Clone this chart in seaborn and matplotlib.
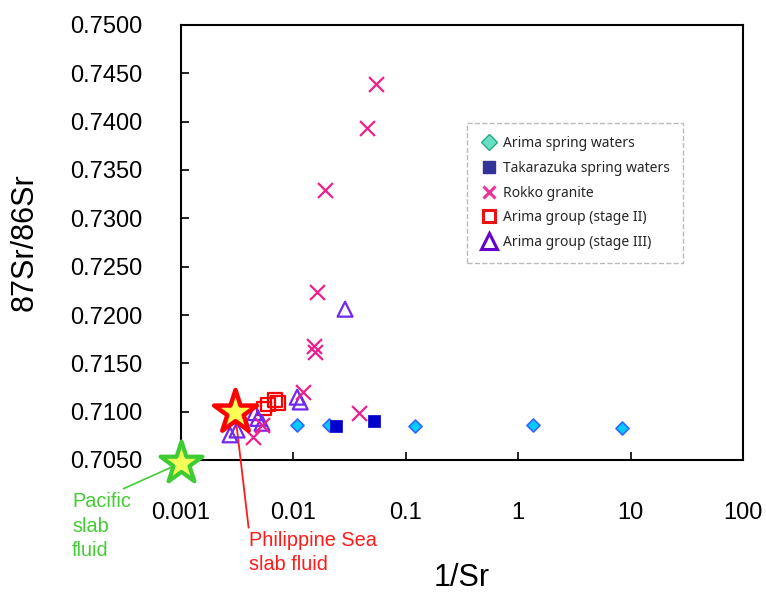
import numpy as np
import pandas as pd
import matplotlib
matplotlib.use('Agg')
import matplotlib.pyplot as plt
from matplotlib.lines import Line2D
import seaborn as sns

# data (x = 1/Sr, y = 87Sr/86Sr)
arima_x = [0.0108, 0.0207, 0.121, 1.36, 8.4]
arima_y = [0.7086, 0.7086, 0.7085, 0.7086, 0.7083]

takarazuka_x = [0.0239, 0.0521]
takarazuka_y = [0.7085, 0.7090]

rokko_x = [0.0543, 0.0452, 0.0191, 0.0162, 0.0152, 0.0156, 0.0122, 0.0384, 0.00526, 0.00437]
rokko_y = [0.7439, 0.7393, 0.7329, 0.7224, 0.7168, 0.7162, 0.7120, 0.7099, 0.7086, 0.7074]

stage2_x = [0.00547, 0.00594, 0.00686, 0.0073]
stage2_y = [0.7103, 0.7107, 0.7112, 0.7109]

stage3_x = [0.00273, 0.00315, 0.00455, 0.00484, 0.00526, 0.0108, 0.0115, 0.0288]
stage3_y = [0.7076, 0.7081, 0.7099, 0.7093, 0.7088, 0.7115, 0.7110, 0.7206]

phil_x, phil_y = [0.00302], [0.7100]
pac_x, pac_y = [0.001], [0.7047]

x_ticks = [0.001, 0.01, 0.1, 1, 10, 100]
x_ticklabels = ['0.001', '0.01', '0.1', '1', '10', '100']
y_ticks = [0.7050, 0.7100, 0.7150, 0.7200, 0.7250, 0.7300, 0.7350, 0.7400, 0.7450, 0.7500]

legend_labels = ['Arima spring waters', 'Takarazuka spring waters', 'Rokko granite',
                 'Arima group (stage II)', 'Arima group (stage III)']

sns.set_theme(style='white')
plt.rcParams['font.family'] = ['Liberation Sans', 'DejaVu Sans']

fig = plt.figure(figsize=(7.66, 5.92), dpi=100)
ax = fig.add_axes([181/766, 1 - 460/592, 562/766, 435/592])

# stars (end members)
sns.scatterplot(x=pac_x, y=pac_y, marker='*', s=1000, color='#f2ff5a',
                edgecolor='#3dcc33', linewidth=3, zorder=6, clip_on=False, ax=ax)
sns.scatterplot(x=phil_x, y=phil_y, marker='*', s=1050, color='#ffff55',
                edgecolor='#ff0000', linewidth=3.2, zorder=6, clip_on=False, ax=ax)

sns.scatterplot(x=arima_x, y=arima_y, marker='D', s=44, color='#00ccff',
                edgecolor='#3366ff', linewidth=1.2, zorder=3, ax=ax)
sns.scatterplot(x=takarazuka_x, y=takarazuka_y, marker='s', s=75, color='#0000cc',
                edgecolor='#0000cc', linewidth=0.5, zorder=3, ax=ax)
sns.scatterplot(x=stage2_x, y=stage2_y, marker='s', s=90, facecolor='none',
                edgecolor='#ff0000', linewidth=1.6, zorder=4, ax=ax)
sns.scatterplot(x=stage3_x, y=stage3_y, marker='^', s=115, facecolor='none',
                edgecolor='#7028f0', linewidth=1.6, zorder=4, ax=ax)
sns.scatterplot(x=rokko_x, y=rokko_y, marker='x', s=115, color='#ee1f8a',
                linewidth=1.6, zorder=5, ax=ax)

ax.set_xscale('log')
ax.set_xlim(0.001, 100)
ax.set_ylim(0.7050, 0.7500)
ax.set_xticks(x_ticks)
ax.set_xticklabels(x_ticklabels)
ax.xaxis.set_minor_locator(matplotlib.ticker.NullLocator())
ax.set_yticks(y_ticks)
ax.set_yticklabels(['%.4f' % v for v in y_ticks])

ax.tick_params(direction='in', length=6, width=1.2, color='black',
               labelsize=17, labelcolor='black', bottom=True, left=True)
ax.tick_params(axis='y', pad=28)
ax.tick_params(axis='x', pad=30)
for sp in ax.spines.values():
    sp.set_color('black')
    sp.set_linewidth(1.5)

ax.set_xlabel('1/Sr', fontsize=22, color='black', labelpad=28)
ax.set_ylabel('87Sr/86Sr', fontsize=22, color='black', labelpad=22)

# annotations
ax.annotate('Pacific\nslab\nfluid', xy=(pac_x[0], pac_y[0]), xytext=(72, 100),
            textcoords='figure pixels', ha='left', va='top', color='#44cc33',
            fontsize=14.3, linespacing=1.38, annotation_clip=False,
            arrowprops=dict(arrowstyle='-', color='#44cc33', lw=1.2,
                            shrinkA=0, shrinkB=0, relpos=(0.75, 1.0)))
ax.annotate('Philippine Sea\nslab fluid', xy=(phil_x[0], phil_y[0]), xytext=(249, 61),
            textcoords='figure pixels', ha='left', va='top', color='#ff1a1a',
            fontsize=14.3, linespacing=1.3, annotation_clip=False,
            arrowprops=dict(arrowstyle='-', color='#ff1a1a', lw=1.3,
                            shrinkA=0, shrinkB=0, relpos=(0.0, 1.0)))

# legend
handles = [
    Line2D([], [], ls='none', marker='D', ms=8, mfc='#66e0c0', mec='#2aa888', mew=1),
    Line2D([], [], ls='none', marker='s', ms=8, mfc='#333399', mec='#333399'),
    Line2D([], [], ls='none', marker='x', ms=9, color='#ee3399', mew=2.2),
    Line2D([], [], ls='none', marker='s', ms=9, mfc='white', mec='#ee1111', mew=2.2),
    Line2D([], [], ls='none', marker='^', ms=11, mfc='white', mec='#6600cc', mew=2.2),
]
leg = ax.legend(handles, legend_labels, loc='upper left', bbox_to_anchor=(0.509, 0.775),
                prop={'family': ['Noto Sans', 'DejaVu Sans'], 'size': 10},
                frameon=True, fancybox=False, borderpad=0.95, handlelength=1.2,
                handletextpad=0.45, labelspacing=0.7, borderaxespad=0)
frame = leg.get_frame()
frame.set_edgecolor('#aaaaaa')
frame.set_linestyle('--')
frame.set_linewidth(1.0)

fig.savefig('out.png', dpi=100)
